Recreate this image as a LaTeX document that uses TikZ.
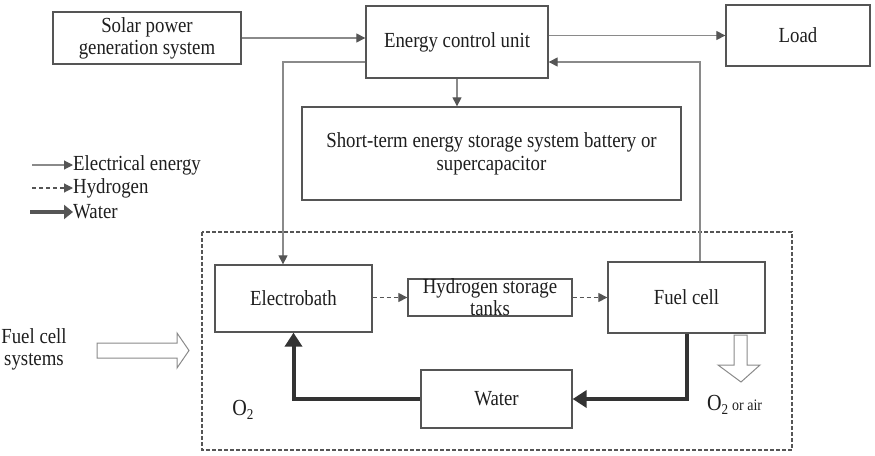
\documentclass[tikz,border=0pt]{standalone}
\usepackage{fontspec}
\setmainfont{Liberation Serif}[FakeStretch=0.875]
\usetikzlibrary{arrows.meta}
\definecolor{boxc}{HTML}{555555}
\definecolor{elc}{HTML}{8A8A8A}
\definecolor{wat}{HTML}{333333}
\definecolor{txt}{HTML}{1E1E1E}
\newcommand\subtwo{\raisebox{-0.45ex}{\fontsize{15}{15}\selectfont 2}}
\tikzset{
  box/.style={draw=boxc, line width=1.3pt, fill=white, inner sep=0pt, align=center, text=txt,
    font=\fontsize{21.5}{22}\selectfont},
  elec/.style={draw=elc, line width=1.1pt, -{Triangle[length=9pt,width=9pt]}, arrows={[color=boxc]}},
  hyd/.style={draw=boxc, line width=1.1pt, dash pattern=on 4pt off 3pt, -{Triangle[length=9pt,width=9pt]}},
  wline/.style={draw=wat, line width=4pt, -{Triangle[length=14pt,width=17pt]}},
  lbl/.style={text=txt, inner sep=0pt, font=\fontsize{21.5}{22}\selectfont},
  hollow/.style={draw=elc, line width=1pt, fill=white},
}
\begin{document}
\begin{tikzpicture}[x=1pt,y=-1pt]
\useasboundingbox (0,0) rectangle (875,455);
% dashed system box
\draw[draw=boxc, line width=1.1pt, dash pattern=on 4pt off 2pt] (202,232) rectangle (792,450);
% boxes
\node[box, minimum width=188pt, minimum height=52pt] (solar) at (147,38) {Solar power\\generation system};
\node[box, minimum width=182pt, minimum height=72pt] (ecu) at (457,42) {Energy control unit};
\node[box, minimum width=144pt, minimum height=61pt] (load) at (798,35.5) {Load};
\node[box, minimum width=379pt, minimum height=93pt] (short) at (491.5,153.5) {Short-term energy storage system battery or\\[1pt]supercapacitor};
\node[box, minimum width=157pt, minimum height=67pt] (electro) at (293.5,298.5) {Electrobath};
\node[box, minimum width=164pt, minimum height=35pt] (hyd) at (490,297.5) {Hydrogen storage\\[0pt]tanks};
\node[box, minimum width=157pt, minimum height=71pt] (fc) at (686.5,297.5) {Fuel cell};
\node[box, minimum width=151pt, minimum height=58pt] (water) at (496.5,399) {Water};
% electrical connectors
\draw[elec] (solar.east) -- (solar.east -| ecu.west);
\draw[elec] (load.west -| ecu.east) -- (load.west);
\draw[elec] (ecu.south) -- (ecu.south |- short.north);
\draw[elec] (ecu.west |- 0,62) -| ([xshift=-10.5pt]electro.north);
\draw[elec] ([xshift=13.5pt]fc.north) |- (ecu.east |- 0,62);
% hydrogen connectors
\draw[hyd] (electro.east |- hyd.west) -- (hyd.west);
\draw[hyd] (hyd.east) -- (hyd.east -| fc.west);
% water connectors
\draw[wline] (fc.south) |- (water.east);
\draw[wline] (water.west) -| (electro.south);
% legend
\node[lbl, anchor=west] (le) at (73,165) {Electrical energy};
\node[lbl, anchor=west] (lh) at (73,188) {Hydrogen};
\node[lbl, anchor=west] (lw) at (73,212) {Water};
\coordinate (le0) at (32,165);
\coordinate (lh0) at (32,188);
\coordinate (lw0) at (30,212);
\draw[elec] (le0) -- (le.west);
\draw[hyd] (lh0) -- (lh.west);
\draw[draw=boxc, line width=4pt, -{Triangle[length=9pt,width=14pt]}] (lw0) -- (lw.west);
% texts
\node[lbl, align=center] (fcs) at (34,349) {Fuel cell\\systems};
\node[lbl, font=\fontsize{23}{23}\selectfont] (o2) at (243,410) {O\subtwo};
\node[lbl, anchor=west, font=\fontsize{23}{23}\selectfont] (o2air) at (707,405) {O\subtwo\,\fontsize{16}{16}\selectfont or air};
% hollow arrows
\draw[hollow] (97,343) -- (177,343) -- (177,333) -- (189,350.5) -- (177,368) -- (177,358) -- (97,358) -- cycle;
\draw[hollow] (734,335) -- (747,335) -- (747,365) -- (760,365) -- (741,382) -- (718,365) -- (734,365) -- cycle;
\end{tikzpicture}
\end{document}
